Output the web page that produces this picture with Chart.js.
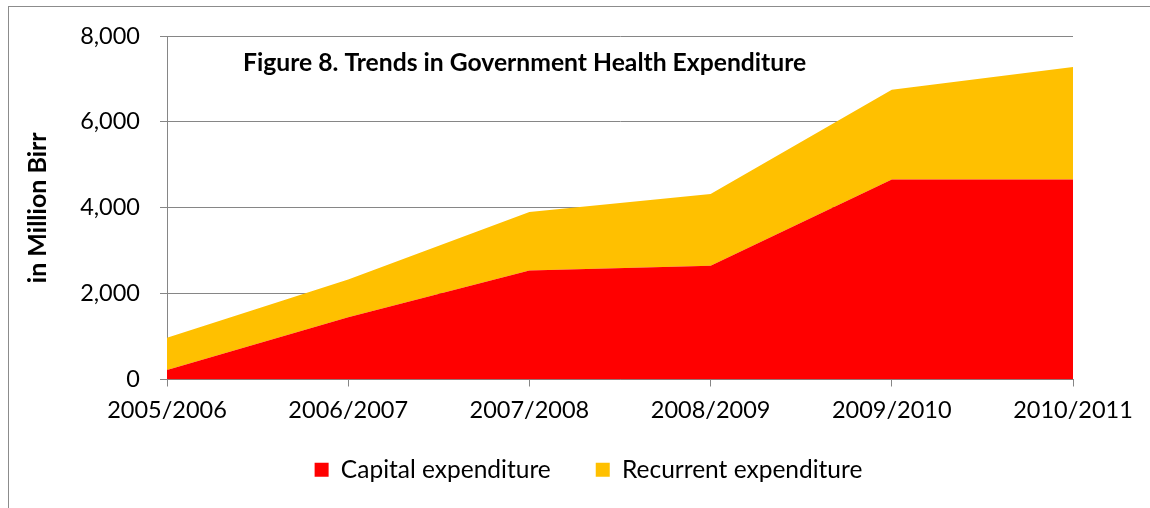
<!DOCTYPE html>
<html>
<head>
<meta charset="utf-8">
<script src="https://cdn.jsdelivr.net/npm/chart.js@4"></script>
<style>
  body { margin: 0; background: #fff; }
  canvas { display: block; }
</style>
</head>
<body>
<canvas id="chart" width="1150" height="508"></canvas>
<script>
const years = ['2005/2006', '2006/2007', '2007/2008', '2008/2009', '2009/2010', '2010/2011'];
const capital = [220, 1450, 2540, 2650, 4660, 4660];
const recurrent = [750, 880, 1360, 1670, 2090, 2620];
const yTicks = [0, 2000, 4000, 6000, 8000];

const axisGrey = '#868686';
const fontName = 'Lato, "Open Sans", sans-serif';

// outer frame of the figure, the title set inside the plot, legend nudged into place
const frameAndTitle = {
  id: 'frameAndTitle',
  afterLayout(chart) {
    chart.legend.left += 47;
    chart.legend.right += 47;
    chart.legend.top -= 16;
    chart.legend.bottom -= 16;
  },
  beforeDraw(chart) {
    const ctx = chart.ctx;
    ctx.save();
    ctx.strokeStyle = '#8c8c8c';
    ctx.lineWidth = 1;
    ctx.strokeRect(8.5, 6.5, chart.width + 20, chart.height + 20);
    ctx.restore();
  },
  afterDraw(chart) {
    const ctx = chart.ctx;
    const area = chart.chartArea;
    ctx.save();
    ctx.font = 'bold 24.7px ' + fontName;
    ctx.fillStyle = '#000';
    ctx.textBaseline = 'middle';
    ctx.fillText('Figure 8. Trends in Government Health Expenditure', area.left + 76, area.top + 27);
    ctx.restore();
  }
};

new Chart(document.getElementById('chart'), {
  type: 'line',
  data: {
    labels: years,
    datasets: [
      {
        label: 'Capital expenditure',
        data: capital,
        backgroundColor: '#ff0000',
        borderColor: '#ff0000',
        borderWidth: 0,
        pointRadius: 0,
        fill: 'origin',
        tension: 0
      },
      {
        label: 'Recurrent expenditure',
        data: recurrent,
        backgroundColor: '#ffc000',
        borderColor: '#ffc000',
        borderWidth: 0,
        pointRadius: 0,
        fill: '-1',
        tension: 0
      }
    ]
  },
  options: {
    responsive: false,
    animation: false,
    devicePixelRatio: 1,
    layout: { padding: { left: 10, right: 77, top: 36, bottom: 0 } },
    plugins: {
      tooltip: { enabled: false },
      legend: {
        position: 'bottom',
        labels: {
          font: { family: fontName, size: 24.5 },
          color: '#000',
          boxWidth: 14,
          boxHeight: 14,
          padding: 45,
          useBorderRadius: false
        }
      }
    },
    scales: {
      x: {
        offset: false,
        grid: { display: true, drawOnChartArea: false, drawTicks: true, tickLength: 7, color: axisGrey },
        border: { color: axisGrey },
        ticks: {
          font: { family: fontName, size: 23.5 },
          color: '#000',
          maxRotation: 0,
          autoSkip: false,
          padding: 10
        },
        afterFit(scale) { scale.height = 49; }
      },
      y: {
        stacked: true,
        min: 0,
        max: 8000,
        afterBuildTicks(scale) { scale.ticks = yTicks.map(v => ({ value: v })); },
        grid: { color: axisGrey, tickLength: 7 },
        border: { color: axisGrey },
        ticks: {
          font: { family: fontName, size: 23.5 },
          color: '#000',
          padding: 20,
          callback: v => v.toLocaleString('en-US')
        },
        title: {
          display: true,
          text: 'in Million Birr',
          font: { family: fontName, size: 25, weight: 'bold' },
          color: '#000',
          padding: { top: 13, bottom: 0 }
        },
        afterFit(scale) { scale.width = 157; }
      }
    }
  },
  plugins: [frameAndTitle]
});
</script>
</body>
</html>
